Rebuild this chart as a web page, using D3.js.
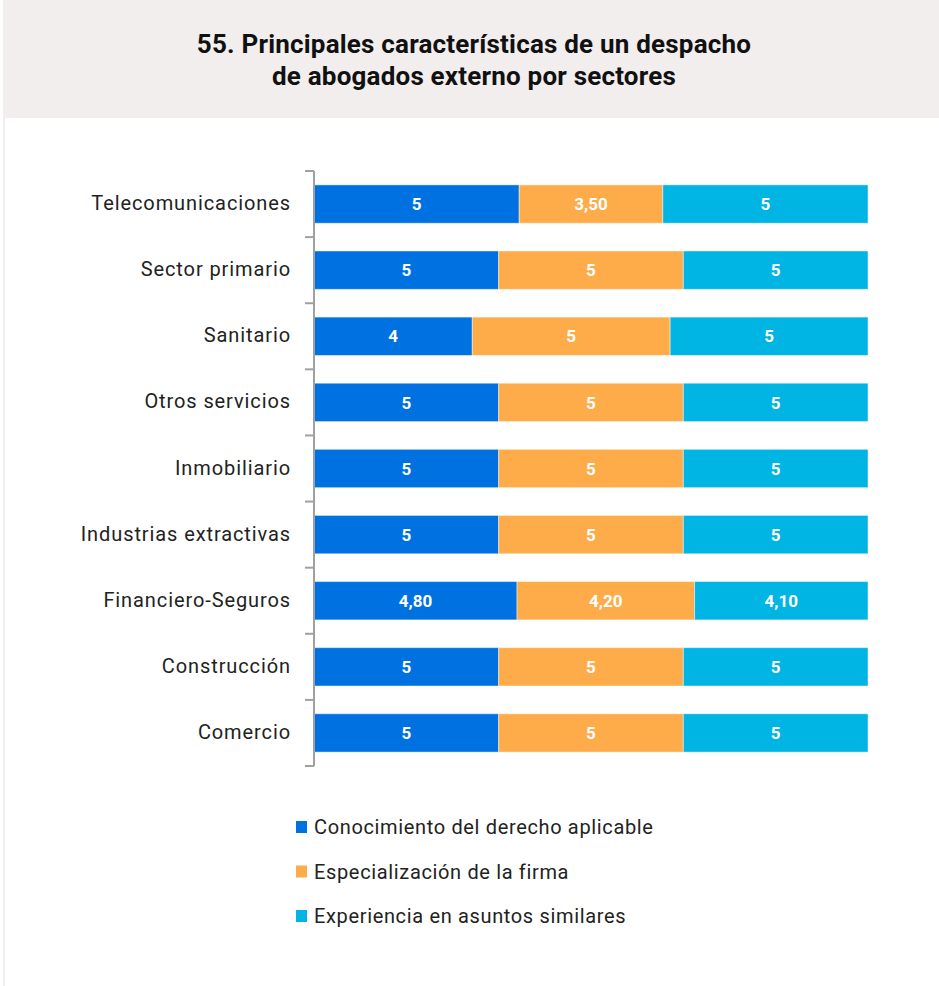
<!DOCTYPE html>
<html><head><meta charset="utf-8">
<script src="https://cdn.jsdelivr.net/npm/d3@7"></script>
<style>body{margin:0;background:#fff}svg{display:block}</style>
</head><body>
<script>
const categories = ["Telecomunicaciones","Sector primario","Sanitario","Otros servicios","Inmobiliario","Industrias extractivas","Financiero-Seguros","Construcción","Comercio"];
const seriesNames = ["Conocimiento del derecho aplicable","Especialización de la firma","Experiencia en asuntos similares"];
const conocimiento = [5,5,4,5,5,5,4.8,5,5];
const especializacion = [3.5,5,5,5,5,5,4.2,5,5];
const experiencia = [5,5,5,5,5,5,4.1,5,5];
const labelsConocimiento = ["5","5","4","5","5","5","4,80","5","5"];
const labelsEspecializacion = ["3,50","5","5","5","5","5","4,20","5","5"];
const labelsExperiencia = ["5","5","5","5","5","5","4,10","5","5"];
const colors = ["#0071e1","#feac4a","#00b4e3"];

const W=939,H=986;
const svg=d3.select("body").append("svg").attr("width",W).attr("height",H);
svg.append("rect").attr("x",3).attr("y",0).attr("width",W-3).attr("height",118).attr("fill","#f1eeed");
svg.append("rect").attr("x",3).attr("y",118).attr("width",2).attr("height",H-118).attr("fill","#f1eeed");
const title=svg.append("text").attr("text-anchor","middle").attr("font-family","Roboto, sans-serif").attr("font-weight","bold").attr("font-size",26).attr("fill","#111").style("letter-spacing","0.2px");
title.append("tspan").attr("x",474).attr("y",53).text("55. Principales características de un despacho");
title.append("tspan").attr("x",474).attr("y",85).text("de abogados externo por sectores");

const values=[conocimiento,especializacion,experiencia];
const labels=[labelsConocimiento,labelsEspecializacion,labelsExperiencia];
const rows=categories.map((c,i)=>({cat:c,v:values.map(a=>a[i])}));
const x=d3.scaleLinear().domain([0,1]).range([314,868]);
const y=d3.scaleBand().domain(categories).range([171,766]).paddingInner(0.42).paddingOuter(0.21);

const g=svg.append("g");
rows.forEach((r,i)=>{
  const tot=d3.sum(r.v);
  let acc=0;
  r.v.forEach((v,k)=>{
    const x0=x(acc/tot), x1=x((acc+v)/tot);
    g.append("rect").attr("x",x0).attr("y",y(r.cat)).attr("width",x1-x0).attr("height",y.bandwidth())
      .attr("fill",colors[k]).attr("stroke","rgba(255,255,255,0.45)").attr("stroke-width",1);
    g.append("text").attr("x",(x0+x1)/2).attr("y",y(r.cat)+y.bandwidth()/2).attr("dy","0.36em")
      .attr("text-anchor","middle").attr("font-family","Roboto, sans-serif").attr("font-weight","bold")
      .attr("font-size",17).attr("fill","#fff").text(labels[k][i]);
    acc+=v;
  });
});

// axis
const axisG=svg.append("g");
axisG.append("line").attr("x1",314).attr("x2",314).attr("y1",171).attr("y2",766).attr("stroke","#a0a0a0").attr("stroke-width",2);
const tickYs=categories.map(c=>y(c)-y.step()*y.paddingInner()/2).concat([766]);
tickYs[0]=171;
axisG.selectAll("line.t").data(tickYs).enter().append("line").attr("class","t")
  .attr("x1",305).attr("x2",314).attr("y1",d=>d).attr("y2",d=>d).attr("stroke","#a0a0a0").attr("stroke-width",2);
svg.append("g").selectAll("text").data(categories).enter().append("text")
  .attr("x",291).attr("y",d=>y(d)+y.bandwidth()/2).attr("dy","0.3em")
  .attr("text-anchor","end").attr("font-family","Roboto, sans-serif").attr("font-size",20).attr("fill","#222")
  .style("letter-spacing","0.9px").text(d=>d);

// legend
const lg=svg.append("g");
seriesNames.forEach((n,k)=>{
  const cy=827+k*44.5;
  lg.append("rect").attr("x",296).attr("y",cy-6).attr("width",11).attr("height",12).attr("fill",colors[k]);
  lg.append("text").attr("x",314).attr("y",cy).attr("dy","0.35em").attr("font-family","Roboto, sans-serif").attr("font-size",20).attr("fill","#222")
    .style("letter-spacing","0.65px").text(n);
});
</script>
</body></html>
